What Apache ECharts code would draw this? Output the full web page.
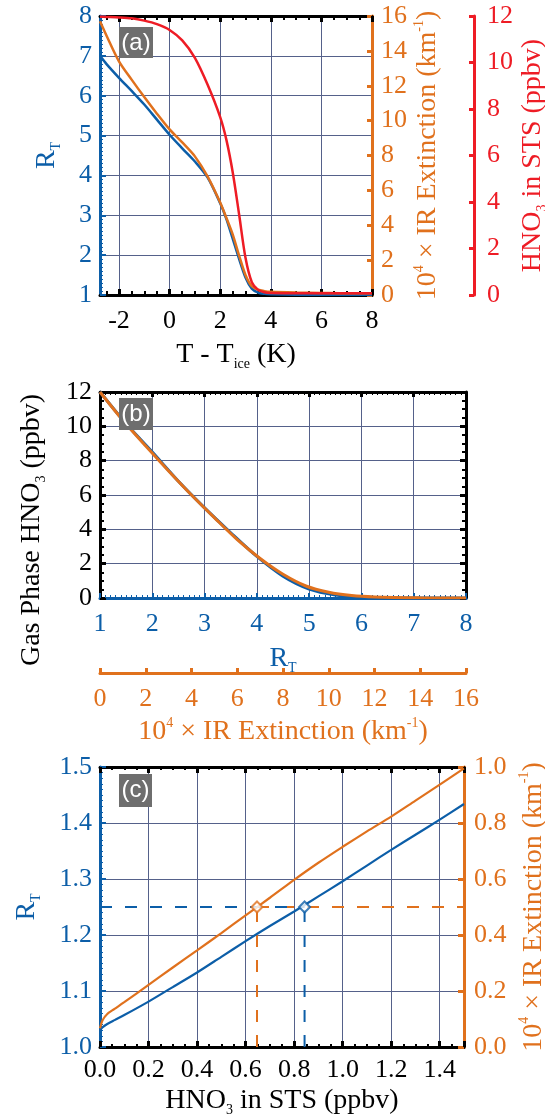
<!DOCTYPE html>
<html>
<head>
<meta charset="utf-8">
<script src="https://cdn.jsdelivr.net/npm/echarts@6.0.0/dist/echarts.min.js"></script>
<style>
html, body { margin: 0; padding: 0; background: #fff; }
#main { width: 545px; height: 1120px; }
</style>
</head>
<body>
<div id="main"></div>
<script>
var myChart = echarts.init(document.getElementById('main'));

// panel (a): against T - Tice
var tempDiff = [-2.75, -2.5, -2, -1.5, -1, -0.5, 0, 0.5, 1, 1.5, 2, 2.25, 2.5, 2.75, 3, 3.25, 3.5, 3.75, 4, 5, 6, 7, 8];
var rtA  = [7.0, 6.8, 6.45, 6.12, 5.78, 5.4, 5.02, 4.68, 4.35, 3.95, 3.3, 2.9, 2.4, 1.9, 1.44, 1.16, 1.06, 1.03, 1.02, 1.005, 1.0, 1.0, 1.0];
var extA = [15.7, 14.9, 13.4, 12.35, 11.35, 10.4, 9.5, 8.75, 7.95, 6.8, 5.3, 4.4, 3.45, 2.25, 1.15, 0.5, 0.3, 0.22, 0.18, 0.14, 0.12, 0.1, 0.1];
var stsA = [11.97, 11.96, 11.94, 11.9, 11.8, 11.65, 11.4, 10.95, 10.2, 9.05, 7.65, 6.65, 5.25, 3.45, 1.6, 0.55, 0.22, 0.12, 0.09, 0.07, 0.07, 0.07, 0.07];
var tempTicks = [-2, 0, 2, 4, 6, 8];
var tempMinor = [-2.5, -1.5, -1, -0.5, 0.5, 1, 1.5, 2.5, 3, 3.5, 4.5, 5, 5.5, 6.5, 7, 7.5];

// panel (b): gas phase HNO3
var rtB   = [1, 1.5, 2, 2.5, 3, 3.5, 4, 4.5, 5, 5.5, 6, 6.5, 7, 8];
var gasB  = [12.0, 10.15, 8.5, 6.8, 5.25, 3.8, 2.42, 1.27, 0.52, 0.18, 0.06, 0.02, 0.0, 0.0];
var extB  = [0, 1, 2, 3, 4, 5, 6, 7, 8, 9, 10, 11, 12, 14, 16];
var gasExtB = [12.0, 10.35, 8.85, 7.4, 6.0, 4.68, 3.4, 2.3, 1.38, 0.7, 0.33, 0.14, 0.06, 0.01, 0.0];

// panel (c): HNO3 in STS
var stsC = [0, 0.01, 0.03, 0.06, 0.1, 0.2, 0.3, 0.4, 0.5, 0.6, 0.7, 0.8, 0.9, 1.0, 1.1, 1.2, 1.3, 1.4, 1.5];
var rtC  = [1.03, 1.035, 1.041, 1.048, 1.057, 1.081, 1.107, 1.133, 1.161, 1.189, 1.216, 1.242, 1.269, 1.296, 1.324, 1.352, 1.379, 1.406, 1.434];
var extC = [0.067, 0.095, 0.118, 0.136, 0.16, 0.222, 0.284, 0.345, 0.407, 0.47, 0.533, 0.597, 0.658, 0.715, 0.77, 0.823, 0.88, 0.937, 0.995];
var markRt  = [0.843, 1.25];
var markExt = [0.647, 0.5];

var BLUE = '#0c5ea8', ORANGE = '#e0711d', RED = '#ee1c25', GRID = '#55618a', BLACK = '#000';
var SERIF = '"Liberation Serif", "Times New Roman", serif';

function pairs(xs, ys) {
    return xs.map(function (x, i) { return [x, ys[i]]; });
}

function nameStyle(color) {
    return {
        color: color, fontFamily: SERIF, fontSize: 28, lineHeight: 32,
        rich: {
            sub: {color: color, fontFamily: SERIF, fontSize: 14, lineHeight: 14, verticalAlign: 'bottom'},
            sup: {color: color, fontFamily: SERIF, fontSize: 14, lineHeight: 14, verticalAlign: 'top'}
        }
    };
}

function labelStyle(color, margin) {
    return {color: color, fontFamily: SERIF, fontSize: 26, margin: margin};
}

function curve(xi, yi, xs, ys, color, width, z) {
    return {type: 'line', xAxisIndex: xi, yAxisIndex: yi, data: pairs(xs, ys), showSymbol: false,
        smooth: 0.3, lineStyle: {color: color, width: width}, z: z};
}

function guide(xi, yi, data, color) {
    return {type: 'line', xAxisIndex: xi, yAxisIndex: yi, data: data, showSymbol: false,
        lineStyle: {color: color, width: 2, type: [12, 13]}, z: 2};
}

var EXT_NAME = '10{sup|4} × IR Extinction (km{sup|-1})';

option = {
    animation: false,
    backgroundColor: '#fff',
    grid: [
        {left: 100, top: 16, width: 272, height: 279, outerBoundsMode: 'none'},
        {left: 100, top: 392, width: 366, height: 206, outerBoundsMode: 'none'},
        {left: 100, top: 767, width: 364, height: 280, outerBoundsMode: 'none'}
    ],
    xAxis: [
        // (a)
        {
            gridIndex: 0, type: 'value', position: 'bottom', min: -2.75, max: 8,
            axisLine: {lineStyle: {color: BLACK, width: 3}},
            axisTick: {inside: true, length: 6, customValues: tempTicks, lineStyle: {color: BLACK, width: 3}},
            axisLabel: Object.assign({customValues: tempTicks}, labelStyle(BLACK, 13)),
            splitLine: {show: true, lineStyle: {color: GRID, width: 1}},
            name: 'T - T{sub|ice} (K)', nameLocation: 'middle', nameGap: 44, nameTextStyle: nameStyle(BLACK)
        },
        {
            gridIndex: 0, type: 'value', position: 'top', min: -2.75, max: 8,
            axisLine: {lineStyle: {color: BLACK, width: 3}},
            axisTick: {inside: true, length: 6, customValues: tempTicks, lineStyle: {color: BLACK, width: 3}},
            axisLabel: {show: false}, splitLine: {show: false}
        },
        {
            gridIndex: 0, type: 'value', position: 'bottom', min: -2.75, max: 8,
            axisLine: {show: false},
            axisTick: {inside: true, length: 4, customValues: tempMinor, lineStyle: {color: BLACK, width: 2}},
            axisLabel: {show: false}, splitLine: {show: false}
        },
        {
            gridIndex: 0, type: 'value', position: 'top', min: -2.75, max: 8,
            axisLine: {show: false},
            axisTick: {inside: true, length: 4, customValues: tempMinor, lineStyle: {color: BLACK, width: 2}},
            axisLabel: {show: false}, splitLine: {show: false}
        },
        // (b)
        {
            gridIndex: 1, type: 'value', position: 'bottom', min: 1, max: 8, interval: 1,
            axisLine: {lineStyle: {color: BLUE, width: 3}},
            axisTick: {inside: true, length: 5, lineStyle: {color: BLUE, width: 2}},
            minorTick: {show: true, splitNumber: 10, length: 3, lineStyle: {color: BLUE, width: 1}},
            axisLabel: labelStyle(BLUE, 13),
            splitLine: {show: true, lineStyle: {color: GRID, width: 1}},
            name: 'R{sub|T}', nameLocation: 'middle', nameGap: 45, nameTextStyle: nameStyle(BLUE)
        },
        {
            gridIndex: 1, type: 'value', position: 'top', min: 1, max: 8, interval: 1,
            axisLine: {lineStyle: {color: BLACK, width: 3}},
            axisTick: {inside: true, length: 5, lineStyle: {color: BLACK, width: 3}},
            minorTick: {show: true, splitNumber: 10, length: 3, lineStyle: {color: BLACK, width: 1}},
            axisLabel: {show: false}, splitLine: {show: false}
        },
        {
            gridIndex: 1, type: 'value', position: 'bottom', offset: 75, min: 0, max: 16, interval: 2,
            axisLine: {lineStyle: {color: ORANGE, width: 3}},
            axisTick: {inside: true, length: 5, lineStyle: {color: ORANGE, width: 3}},
            axisLabel: labelStyle(ORANGE, 13),
            splitLine: {show: false},
            name: EXT_NAME, nameLocation: 'middle', nameGap: 43, nameTextStyle: nameStyle(ORANGE)
        },
        // (c)
        {
            gridIndex: 2, type: 'value', position: 'bottom', min: 0, max: 1.5, interval: 0.2,
            axisLine: {lineStyle: {color: BLACK, width: 3}},
            axisTick: {inside: true, length: 6, lineStyle: {color: BLACK, width: 3}},
            minorTick: {show: true, splitNumber: 4, length: 3, lineStyle: {color: BLACK, width: 2}},
            axisLabel: Object.assign({showMaxLabel: false, formatter: function (v) { return v.toFixed(1); }}, labelStyle(BLACK, 10)),
            splitLine: {show: true, lineStyle: {color: GRID, width: 1}},
            name: 'HNO{sub|3} in STS (ppbv)', nameLocation: 'middle', nameGap: 38, nameTextStyle: nameStyle(BLACK)
        },
        {
            gridIndex: 2, type: 'value', position: 'top', min: 0, max: 1.5, interval: 0.2,
            axisLine: {lineStyle: {color: BLACK, width: 3}},
            axisTick: {inside: true, length: 6, lineStyle: {color: BLACK, width: 3}},
            minorTick: {show: true, splitNumber: 4, length: 3, lineStyle: {color: BLACK, width: 2}},
            axisLabel: {show: false}, splitLine: {show: false}
        }
    ],
    yAxis: [
        // (a)
        {
            gridIndex: 0, type: 'value', position: 'left', min: 1, max: 8, interval: 1,
            axisLine: {lineStyle: {color: BLUE, width: 3}},
            axisTick: {inside: true, length: 6, lineStyle: {color: BLUE, width: 2}},
            minorTick: {show: true, splitNumber: 10, length: 3, lineStyle: {color: BLUE, width: 1}},
            axisLabel: labelStyle(BLUE, 8),
            splitLine: {show: true, lineStyle: {color: GRID, width: 1}},
            name: 'R{sub|T}', nameLocation: 'middle', nameRotate: 90, nameGap: 37, nameTextStyle: nameStyle(BLUE)
        },
        {
            gridIndex: 0, type: 'value', position: 'right', min: 0, max: 16, interval: 2,
            axisLine: {lineStyle: {color: ORANGE, width: 3}},
            axisTick: {inside: true, length: 5, lineStyle: {color: ORANGE, width: 3}},
            axisLabel: labelStyle(ORANGE, 9),
            splitLine: {show: false},
            name: EXT_NAME, nameLocation: 'middle', nameRotate: 90, nameGap: 40, nameTextStyle: nameStyle(ORANGE)
        },
        {
            gridIndex: 0, type: 'value', position: 'right', offset: 102, min: 0, max: 12, interval: 2,
            axisLine: {lineStyle: {color: RED, width: 3}},
            axisTick: {inside: true, length: 5, lineStyle: {color: RED, width: 3}},
            axisLabel: labelStyle(RED, 13),
            splitLine: {show: false},
            name: 'HNO{sub|3} in STS (ppbv)', nameLocation: 'middle', nameRotate: 90, nameGap: 37, nameTextStyle: nameStyle(RED)
        },
        // (b)
        {
            gridIndex: 1, type: 'value', position: 'left', min: 0, max: 12, interval: 2,
            axisLine: {lineStyle: {color: BLACK, width: 3}},
            axisTick: {inside: true, length: 6, lineStyle: {color: BLACK, width: 3}},
            minorTick: {show: true, splitNumber: 4, length: 4, lineStyle: {color: BLACK, width: 2}},
            axisLabel: labelStyle(BLACK, 8),
            splitLine: {show: true, lineStyle: {color: GRID, width: 1}},
            name: 'Gas Phase HNO{sub|3} (ppbv)', nameLocation: 'middle', nameRotate: 90, nameGap: 52,
            nameTextStyle: Object.assign(nameStyle(BLACK), {padding: [0, 70, 0, 0]})
        },
        {
            gridIndex: 1, type: 'value', position: 'right', min: 0, max: 12, interval: 2,
            axisLine: {lineStyle: {color: BLACK, width: 3}},
            axisTick: {inside: true, length: 6, lineStyle: {color: BLACK, width: 3}},
            minorTick: {show: true, splitNumber: 4, length: 4, lineStyle: {color: BLACK, width: 2}},
            axisLabel: {show: false}, splitLine: {show: false}
        },
        // (c)
        {
            gridIndex: 2, type: 'value', position: 'left', min: 1.0, max: 1.5, interval: 0.1,
            axisLine: {lineStyle: {color: BLUE, width: 3}},
            axisTick: {inside: true, length: 6, lineStyle: {color: BLUE, width: 2}},
            minorTick: {show: true, splitNumber: 10, length: 3, lineStyle: {color: BLUE, width: 1}},
            axisLabel: Object.assign({formatter: function (v) { return v.toFixed(1); }}, labelStyle(BLUE, 8)),
            splitLine: {show: true, lineStyle: {color: GRID, width: 1}},
            name: 'R{sub|T}', nameLocation: 'middle', nameRotate: 90, nameGap: 57, nameTextStyle: nameStyle(BLUE)
        },
        {
            gridIndex: 2, type: 'value', position: 'right', min: 0, max: 1, interval: 0.2,
            axisLine: {lineStyle: {color: ORANGE, width: 3}},
            axisTick: {inside: true, length: 6, lineStyle: {color: ORANGE, width: 3}},
            axisLabel: Object.assign({formatter: function (v) { return v.toFixed(1); }}, labelStyle(ORANGE, 10)),
            splitLine: {show: false},
            name: EXT_NAME, nameLocation: 'middle', nameRotate: 90, nameGap: 46, nameTextStyle: nameStyle(ORANGE)
        }
    ],
    graphic: [
        {type: 'rect', shape: {x: 119, y: 27, width: 34, height: 31}, style: {fill: '#6e6e6e'}, z: 50},
        {type: 'text', x: 136, y: 43, style: {text: '(a)', fill: '#fff', font: '24px "Liberation Sans", Arial, sans-serif', align: 'center', verticalAlign: 'middle'}, z: 51},
        {type: 'rect', shape: {x: 119, y: 398, width: 34, height: 32}, style: {fill: '#6e6e6e'}, z: 50},
        {type: 'text', x: 136, y: 414, style: {text: '(b)', fill: '#fff', font: '24px "Liberation Sans", Arial, sans-serif', align: 'center', verticalAlign: 'middle'}, z: 51},
        {type: 'rect', shape: {x: 119, y: 774, width: 33, height: 33}, style: {fill: '#6e6e6e'}, z: 50},
        {type: 'text', x: 135.5, y: 790.5, style: {text: '(c)', fill: '#fff', font: '24px "Liberation Sans", Arial, sans-serif', align: 'center', verticalAlign: 'middle'}, z: 51}
    ],
    series: [
        // (a)
        curve(0, 0, tempDiff, rtA, BLUE, 2.5, 3),
        curve(0, 1, tempDiff, extA, ORANGE, 2.5, 4),
        curve(0, 2, tempDiff, stsA, RED, 2.5, 5),
        // (b)
        curve(4, 3, rtB, gasB, BLUE, 3, 3),
        curve(6, 3, extB, gasExtB, ORANGE, 3, 4),
        // (c) dashed guides
        guide(7, 6, [markExt, [1.5, markExt[1]]], ORANGE),
        guide(7, 6, [[markExt[0], 0], markExt], ORANGE),
        guide(7, 5, [[0, markRt[1]], markRt], BLUE),
        guide(7, 5, [[markRt[0], 1.0], markRt], BLUE),
        // (c) curves
        curve(7, 5, stsC, rtC, BLUE, 2.2, 3),
        curve(7, 6, stsC, extC, ORANGE, 2.2, 3),
        {type: 'scatter', xAxisIndex: 7, yAxisIndex: 5, data: [markRt], symbol: 'diamond', symbolSize: 11,
            itemStyle: {color: '#fff', borderColor: BLUE, borderWidth: 2}, z: 6},
        {type: 'scatter', xAxisIndex: 7, yAxisIndex: 6, data: [markExt], symbol: 'diamond', symbolSize: 11,
            itemStyle: {color: '#fff', borderColor: ORANGE, borderWidth: 2}, z: 6}
    ]
};

// keep every axis line on the plot edge, not on zero
option.xAxis.concat(option.yAxis).forEach(function (ax) {
    ax.axisLine = ax.axisLine || {};
    ax.axisLine.onZero = false;
});

myChart.setOption(option);
</script>
</body>
</html>
